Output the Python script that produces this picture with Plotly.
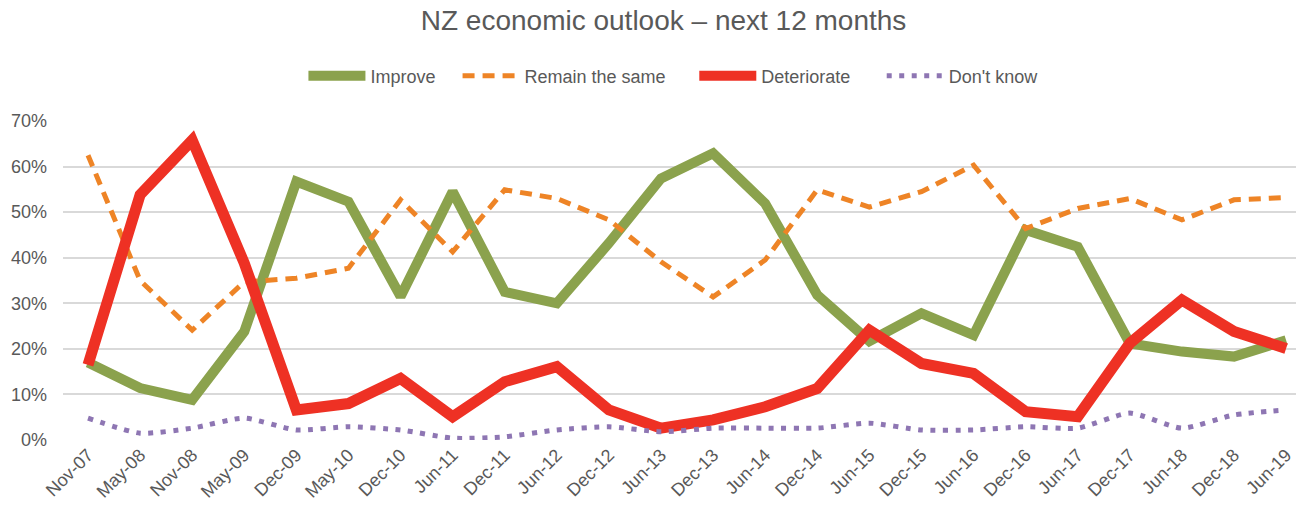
import plotly.graph_objects as go

periods = ["Nov-07", "May-08", "Nov-08", "May-09", "Dec-09", "May-10", "Dec-10",
           "Jun-11", "Dec-11", "Jun-12", "Dec-12", "Jun-13", "Dec-13", "Jun-14",
           "Dec-14", "Jun-15", "Dec-15", "Jun-16", "Dec-16", "Jun-17", "Dec-17",
           "Jun-18", "Dec-18", "Jun-19"]

improve = [17, 11.4, 8.8, 23.8, 56.7, 52.3, 31.5, 54.5, 32.5, 30, 43.2, 57.4,
           62.9, 51.9, 31.8, 21.7, 27.8, 23, 46.1, 42.4, 21.2, 19.4, 18.3, 21.9]
remain_same = [62.5, 35, 24.1, 34.7, 35.5, 37.7, 52.7, 41.3, 54.9, 53, 48.3, 39.1,
               31.4, 39.5, 54.9, 51.1, 54.5, 60.3, 46.4, 50.8, 53, 48.3, 52.7, 53.2]
deteriorate = [16.5, 53.8, 65.8, 38.8, 6.6, 8.0, 13.5, 5.1, 12.8, 16.1, 6.6, 2.6,
               4.4, 7.3, 11.3, 24.1, 16.8, 14.6, 6.2, 5.1, 21.2, 30.7, 23.8, 20.1]
dont_know = [4.8, 1.5, 2.6, 4.8, 2.2, 2.9, 2.2, 0.4, 0.7, 2.2, 2.9, 1.8,
             2.6, 2.6, 2.6, 3.7, 2.2, 2.2, 2.9, 2.6, 5.9, 2.6, 5.5, 6.6]

y_ticks = [0, 10, 20, 30, 40, 50, 60, 70]
y_tick_text = ["0%", "10%", "20%", "30%", "40%", "50%", "60%", "70%"]

FONT = "Arial, Liberation Sans, sans-serif"
GREY = "#595959"

# each series gets its own legend so the entries can be spaced individually
series = [
    ("Improve", improve, dict(color="#8BA24D", width=10), "legend", 0.195),
    ("Remain the same", remain_same, dict(color="#EE8426", width=5, dash="12px,8px"), "legend2", 0.320),
    ("Deteriorate", deteriorate, dict(color="#EE3124", width=11), "legend3", 0.512),
    ("Don't know", dont_know, dict(color="#8E76B3", width=5, dash="5px,7.5px",
                                   shape="spline", smoothing=0.6), "legend4", 0.664),
]

fig = go.Figure()
legends = {}
for name, values, line, leg, lx in series:
    fig.add_trace(go.Scatter(x=periods, y=values, name=name, mode="lines",
                             line=line, legend=leg))
    legends[leg] = dict(orientation="h", x=lx, xanchor="left", y=1.141, yanchor="middle",
                        font=dict(size=18, color=GREY), bgcolor="rgba(0,0,0,0)",
                        itemwidth=57)

fig.update_layout(
    width=1296, height=508,
    margin=dict(l=63, r=0, t=121, b=68),
    paper_bgcolor="white", plot_bgcolor="white",
    font=dict(family=FONT, color=GREY),
    title=dict(text="NZ economic outlook – next 12 months", x=0.512, xanchor="center",
               y=0.96, yanchor="middle", font=dict(size=28, color=GREY)),
    showlegend=True,
    **legends,
)
fig.update_xaxes(type="category", range=[-0.48, 23.19], showgrid=False, showline=False,
                 zeroline=False, ticks="", tickangle=-45, tickfont=dict(size=18, color=GREY))
fig.update_yaxes(range=[0, 70], tickvals=y_ticks, ticktext=y_tick_text, showgrid=True,
                 gridcolor="#D9D9D9", gridwidth=2, zeroline=False, showline=False,
                 ticklabelstandoff=15, tickfont=dict(size=18, color=GREY))

fig.write_html("out.html")
